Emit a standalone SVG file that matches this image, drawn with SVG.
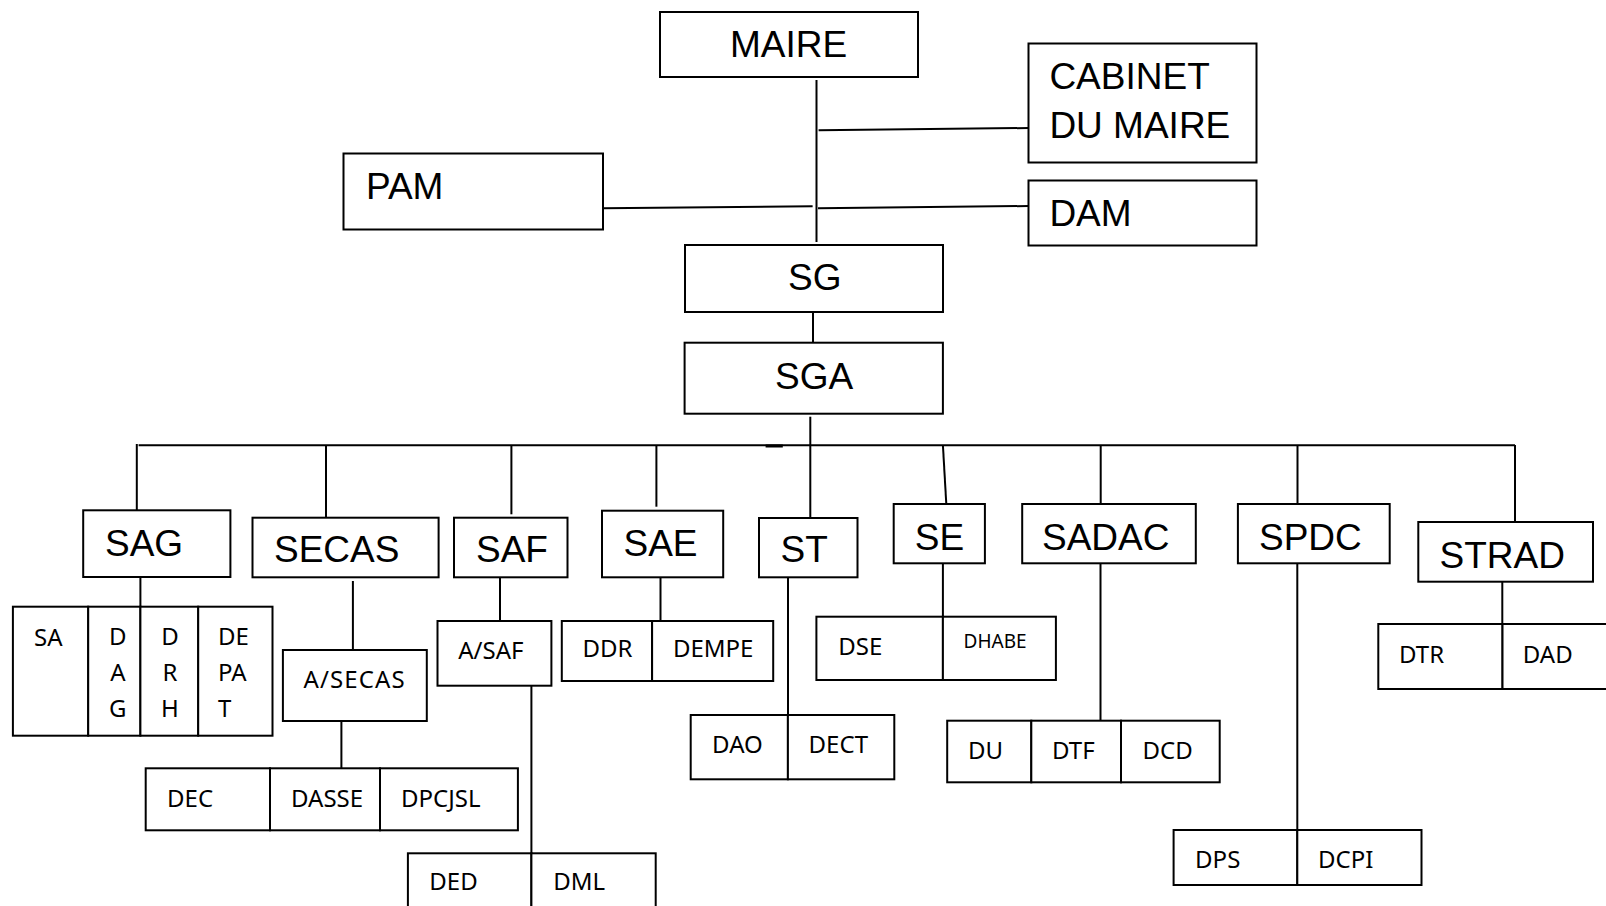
<svg xmlns="http://www.w3.org/2000/svg" width="1606" height="906" viewBox="0 0 1606 906">
<style>
.box{fill:#fff;stroke:#000;stroke-width:2}
.ln{stroke:#000;stroke-width:2;fill:none}
.big{font-family:"Liberation Sans",Arial,sans-serif;font-size:37px;fill:#000}
.sm{font-family:"Noto Sans","Open Sans",sans-serif;font-size:24px;fill:#000}
.xs{font-family:"Noto Sans","Open Sans",sans-serif;font-size:19px;fill:#000}
</style>
<rect width="1606" height="906" fill="#fff"/>
<g id="connectors">
<path class="ln" d="M816.5 80 V242"/>
<path class="ln" d="M818.6 130.3 L1028.4 128"/>
<path class="ln" d="M602.8 208.3 L812.6 206.3"/>
<path class="ln" d="M818 208.3 L1028.4 206"/>
<path class="ln" d="M813 312 V342.7"/>
<path class="ln" d="M810.3 416.7 V518"/>
<path class="ln" d="M138.6 445.3 H1515"/>
<path class="ln" d="M136.8 444 V510.3"/>
<path class="ln" d="M1515 445 V522"/>
<path class="ln" d="M765.6 446 H782.8" style="stroke-width:3"/>
<path class="ln" d="M326 445 V517.7"/>
<path class="ln" d="M511.4 445 V514.3"/>
<path class="ln" d="M656.4 445 V506.7"/>
<path class="ln" d="M942.9 445 L946.3 504"/>
<path class="ln" d="M1100.7 445 V504"/>
<path class="ln" d="M1297.5 445 V504"/>
<path class="ln" d="M140.4 577 V606.7"/>
<path class="ln" d="M352.9 581 V650"/>
<path class="ln" d="M341.4 721 V768.3"/>
<path class="ln" d="M500 577 V621"/>
<path class="ln" d="M531.4 685.7 V853.3"/>
<path class="ln" d="M660.5 577 V621"/>
<path class="ln" d="M788 577 V715"/>
<path class="ln" d="M942.9 563 V616.7"/>
<path class="ln" d="M1100.5 563 V720.7"/>
<path class="ln" d="M1297.3 563 V830"/>
<path class="ln" d="M1502.3 582 V624"/>
</g>
<g id="MAIRE"><rect class="box" x="660" y="12" width="258" height="65"/><text class="big" x="730" y="56.7">MAIRE</text></g>
<g id="CABINET"><rect class="box" x="1028.5" y="43.5" width="228" height="119"/><text class="big" x="1049.4" y="89.3">CABINET</text><text class="big" x="1049.4" y="138.3">DU MAIRE</text></g>
<g id="PAM"><rect class="box" x="343.5" y="153.5" width="259.5" height="76"/><text class="big" x="366" y="199">PAM</text></g>
<g id="DAM"><rect class="box" x="1028.5" y="180.5" width="228" height="65"/><text class="big" x="1049.4" y="225.7">DAM</text></g>
<g id="SG"><rect class="box" x="685" y="245" width="258" height="67"/><text class="big" x="788" y="290">SG</text></g>
<g id="SGA"><rect class="box" x="684.6" y="342.7" width="258.3" height="71"/><text class="big" x="775" y="389">SGA</text></g>
<g id="SAG"><rect class="box" x="83.2" y="510.3" width="147.2" height="66.7"/><text class="big" x="105" y="555.7">SAG</text></g>
<g id="SECAS"><rect class="box" x="252.5" y="517.7" width="186.1" height="59.6"/><text class="big" x="274" y="562.3">SECAS</text></g>
<g id="SAF"><rect class="box" x="454" y="517.7" width="113.5" height="59.6"/><text class="big" x="476" y="562.3">SAF</text></g>
<g id="SAE"><rect class="box" x="602" y="510.7" width="121.2" height="66.6"/><text class="big" x="623.5" y="556">SAE</text></g>
<g id="ST"><rect class="box" x="759" y="518" width="98.5" height="59.3"/><text class="big" x="780.5" y="562.3">ST</text></g>
<g id="SE"><rect class="box" x="893.7" y="504" width="91.2" height="59.3"/><text class="big" x="914.8" y="550">SE</text></g>
<g id="SADAC"><rect class="box" x="1022.2" y="504" width="173.6" height="59.3"/><text class="big" x="1042" y="550">SADAC</text></g>
<g id="SPDC"><rect class="box" x="1237.9" y="504" width="151.8" height="59.3"/><text class="big" x="1259" y="550">SPDC</text></g>
<g id="STRAD"><rect class="box" x="1418.3" y="522" width="174.7" height="59.7"/><text class="big" x="1439.5" y="568.3">STRAD</text></g>
<g id="SA"><rect class="box" x="12.9" y="606.7" width="75.3" height="129"/><text class="sm" x="34" y="645.7">SA</text></g>
<g id="DAG"><rect class="box" x="88.2" y="606.7" width="52.2" height="129"/><text class="sm" text-anchor="middle" x="117.8" y="645">D</text><text class="sm" text-anchor="middle" x="117.8" y="680.7">A</text><text class="sm" text-anchor="middle" x="117.8" y="716.7">G</text></g>
<g id="DRH"><rect class="box" x="140.4" y="606.7" width="57.8" height="129"/><text class="sm" text-anchor="middle" x="170" y="645">D</text><text class="sm" text-anchor="middle" x="170" y="680.7">R</text><text class="sm" text-anchor="middle" x="170" y="716.7">H</text></g>
<g id="DEPAT"><rect class="box" x="198.2" y="606.7" width="74.3" height="129"/><text class="sm" x="217.9" y="645">DE</text><text class="sm" x="217.9" y="680.7">PA</text><text class="sm" x="217.9" y="716.7">T</text></g>
<g id="A-SECAS"><rect class="box" x="282.9" y="650" width="143.9" height="71"/><text class="sm" x="303.6" y="688.3" textLength="101" lengthAdjust="spacing">A/SECAS</text></g>
<g id="DEC"><rect class="box" x="145.7" y="768.3" width="124.3" height="62"/><text class="sm" x="167.1" y="806.7">DEC</text></g>
<g id="DASSE"><rect class="box" x="270" y="768.3" width="110" height="62"/><text class="sm" x="291" y="806.7">DASSE</text></g>
<g id="DPCJSL"><rect class="box" x="380" y="768.3" width="137.9" height="62"/><text class="sm" x="401" y="806.7">DPCJSL</text></g>
<g id="A-SAF"><rect class="box" x="437.5" y="621" width="113.9" height="64.7"/><text class="sm" x="458.2" y="659.3">A/SAF</text></g>
<g id="DED"><rect class="box" x="407.9" y="853.3" width="123.5" height="60"/><text class="sm" x="429.3" y="890">DED</text></g>
<g id="DML"><rect class="box" x="531.4" y="853.3" width="124.3" height="60"/><text class="sm" x="553.2" y="890">DML</text></g>
<g id="DDR"><rect class="box" x="561.8" y="621" width="90.3" height="60"/><text class="sm" x="582.5" y="657.3">DDR</text></g>
<g id="DEMPE"><rect class="box" x="652.1" y="621" width="121.1" height="60"/><text class="sm" x="672.9" y="657.3">DEMPE</text></g>
<g id="DAO"><rect class="box" x="690.7" y="715" width="97.2" height="64.3"/><text class="sm" x="712.1" y="753.3">DAO</text></g>
<g id="DECT"><rect class="box" x="787.9" y="715" width="106.4" height="64.3"/><text class="sm" x="808.6" y="753.3">DECT</text></g>
<g id="DSE"><rect class="box" x="816.4" y="616.7" width="126.5" height="63.3"/><text class="sm" x="838.2" y="655">DSE</text></g>
<g id="DHABE"><rect class="box" x="942.9" y="616.7" width="113" height="63.3"/><text class="xs" x="963.6" y="648.3">DHABE</text></g>
<g id="DU"><rect class="box" x="947.2" y="720.7" width="84.1" height="61.6"/><text class="sm" x="967.9" y="759.3">DU</text></g>
<g id="DTF"><rect class="box" x="1031.3" y="720.7" width="89.7" height="61.6"/><text class="sm" x="1052" y="759.3">DTF</text></g>
<g id="DCD"><rect class="box" x="1121" y="720.7" width="98.7" height="61.6"/><text class="sm" x="1142.5" y="759.3">DCD</text></g>
<g id="DPS"><rect class="box" x="1173.6" y="830" width="123.7" height="55"/><text class="sm" x="1195.1" y="868.3">DPS</text></g>
<g id="DCPI"><rect class="box" x="1297.3" y="830" width="124.2" height="55"/><text class="sm" x="1318" y="868.3">DCPI</text></g>
<g id="DTR"><rect class="box" x="1378.3" y="624" width="124.2" height="65"/><text class="sm" x="1399" y="662.7">DTR</text></g>
<g id="DAD"><rect class="box" x="1502.5" y="624" width="110" height="65"/><text class="sm" x="1522.8" y="662.7">DAD</text></g>
</svg>
